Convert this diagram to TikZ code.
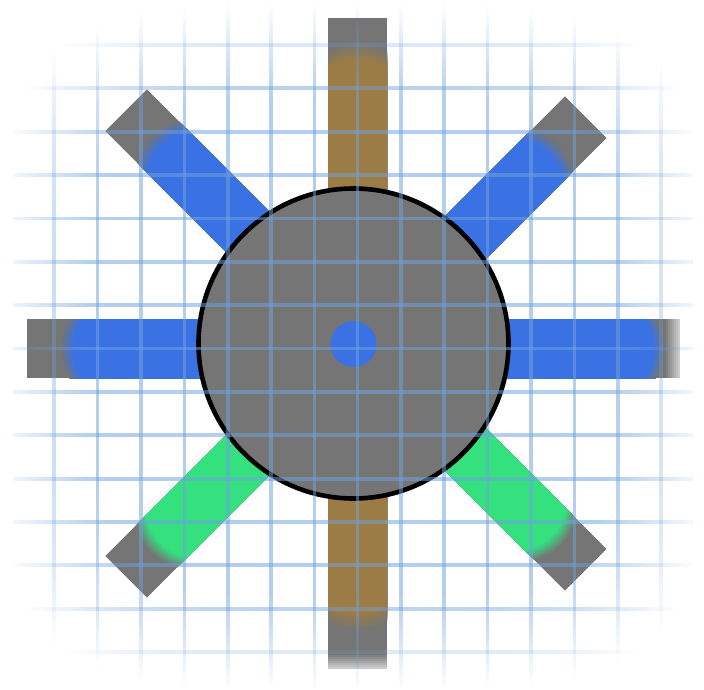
\documentclass[tikz,border=0pt]{standalone}
\definecolor{spokegray}{RGB}{117,117,117}
\definecolor{spokeblue}{RGB}{59,114,227}
\definecolor{spokegreen}{RGB}{53,224,127}
\definecolor{spokebrown}{RGB}{156,124,69}
\definecolor{gridblue}{RGB}{112,162,222}
\newcommand{\spoke}[7]{% cx cy angle length endshift transition colour
  \begin{scope}[shift={(#1,#2)},rotate=#3]
    \clip (0,-29.5) rectangle (#4,29.5);
    \fill[spokegray] (0,-29.5) rectangle (#4,29.5);
    \foreach \k in {0,1,...,16}{
      \pgfmathsetmacro{\mixv}{\k*100/16}
      \pgfmathsetmacro{\tipx}{#4-#5-\k*#6/16}
      \fill[color=#7!\mixv!spokegray] (0,-44) -- (\tipx-34,-44) arc (-90:90:34 and 44) -- (0,44) -- cycle;
    }
  \end{scope}}
\begin{document}
\begin{tikzpicture}[x=1pt,y=-1pt,
  hub/.style={draw=black,line width=4.6pt,fill=spokegray},
  pin/.style={fill=spokeblue}]
\useasboundingbox (0,0) rectangle (704,689);
\fill[white] (0,0) rectangle (704,689);
\spoke{353.5}{348.5}{0}{326.5}{15}{11}{spokeblue}
\spoke{353.5}{348.5}{180}{326.5}{33}{13}{spokeblue}
\spoke{357.5}{343.5}{90}{325.5}{24}{18}{spokebrown}
\spoke{357.5}{343.5}{-90}{325.5}{38}{18}{spokebrown}
\spoke{356}{340}{135}{325}{36}{14}{spokeblue}
\spoke{356}{347}{45}{325}{38}{14}{spokeblue}
\spoke{356}{347}{-135}{325}{34}{14}{spokegreen}
\spoke{356}{340}{-45}{325}{34}{14}{spokegreen}
% soft outer ends of the right and bottom bars
\foreach \k in {0,1,...,7}{
  \pgfmathsetmacro{\op}{0.09*(\k+1)}
  \fill[white,opacity=\op] (666+2*\k,319) rectangle (668+2*\k,378);
  \fill[white,opacity=\op] (328,655+2*\k) rectangle (387,657+2*\k);
}
\node[hub,circle,minimum size=310pt,inner sep=0pt] (hubdisc) at (353.5,343.5) {};
\node[pin,circle,minimum size=46pt,inner sep=0pt] (hubpin) at (353.5,344) {};
\foreach \gx in {54,97.5,141,184.5,228,271,314.5,357.5,401,444,487.5,531,574.5,618,661}{
  \foreach \sy in {5,9,...,685}{
    \pgfmathsetmacro{\dd}{(abs(\gx-352)/352)^4+(abs(\sy+2-347)/335)^4}
    \pgfmathsetmacro{\op}{0.52*(min(1,max(0.001,(1.15-\dd)/0.85)))^1.4}
    \fill[gridblue,opacity=\op] (\gx-1.75,\sy) rectangle (\gx+1.75,\sy+4);
  }
}
\foreach \gy in {45,88,132,175,218.5,262,305,348.5,392,435,479,522,565,609,652}{
  \foreach \sx in {13,17,...,689}{
    \pgfmathsetmacro{\dd}{(abs(\sx+2-352)/352)^4+(abs(\gy-347)/335)^4}
    \pgfmathsetmacro{\op}{0.52*(min(1,max(0.001,(1.15-\dd)/0.85)))^1.4}
    \fill[gridblue,opacity=\op] (\sx,\gy-1.75) rectangle (\sx+4,\gy+1.75);
  }
}
\end{tikzpicture}
\end{document}
